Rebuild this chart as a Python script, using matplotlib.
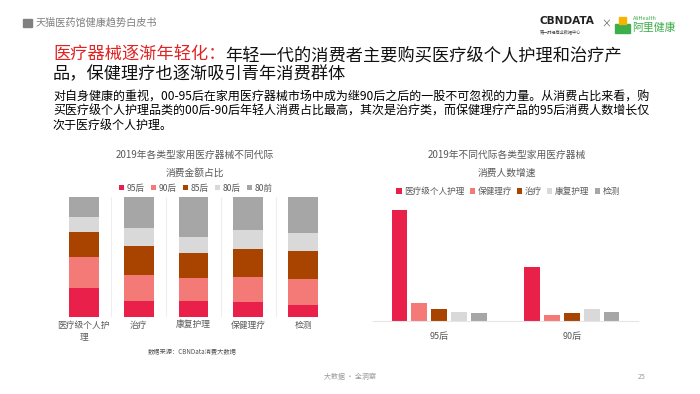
import matplotlib
matplotlib.use('Agg')
from matplotlib import pyplot as plt
from matplotlib.patches import Rectangle
import numpy as np

plt.rcParams['font.family'] = ['Noto Sans CJK SC', 'DejaVu Sans']

# left chart: share of spending by generation (%)
cats_left = ['医疗级个人护\n理', '治疗', '康复护理', '保健理疗', '检测']
gens = ['95后', '90后', '85后', '80后', '80前']
share_95 = [24.2, 13.1, 12.8, 12.2, 10.0]
share_90 = [25.3, 21.9, 19.2, 20.6, 21.7]
share_85 = [21.4, 23.9, 20.8, 23.6, 22.8]
share_80 = [11.9, 15.3, 13.9, 15.6, 15.6]
share_80q = [17.2, 25.8, 33.3, 28.1, 30.0]

# right chart: growth of buyers by category
groups_right = ['95后', '90后']
cats_right = ['医疗级个人护理', '保健理疗', '治疗', '康复护理', '检测']
growth_95 = [3.33, 0.54, 0.36, 0.27, 0.24]
growth_90 = [1.62, 0.19, 0.24, 0.35, 0.27]

gen_colors = ['#E8204A', '#F47A78', '#A94300', '#D9D9D9', '#A6A6A6']
right_colors = ['#E8204A', '#F47A78', '#A94300', '#D9D9D9', '#A6A6A6']

W, H = 700, 394
fig = plt.figure(figsize=(7, 3.94), dpi=100)

def fx(px):
    return px / W

def fy(py):
    return 1 - py / H

# header
fig.patches.append(Rectangle((fx(23), fy(27)), fx(9), 8 / H, transform=fig.transFigure,
                             color='#808080'))
fig.text(fx(36), fy(23), '天猫医药馆健康趋势白皮书', fontsize=7.3, color='#808080', va='center')

# logos
fig.text(fx(539), fy(21.5), 'CBNDATA', fontsize=7.6, fontweight='bold', color='#222222',
         va='center', family='DejaVu Sans')
fig.text(fx(540), fy(32), '第一财经商业数据中心', fontsize=3, color='#444444', va='center')
fig.text(fx(606), fy(24), '×', fontsize=7, color='#666666', va='center', ha='center')
fig.patches.append(Rectangle((fx(615), fy(33)), fx(15), 9 / H, transform=fig.transFigure,
                             color='#3DAE49'))
fig.patches.append(Rectangle((fx(619), fy(24)), fx(7), 7 / H, transform=fig.transFigure,
                             color='#F5B400'))
fig.text(fx(633), fy(18), 'AliHealth', fontsize=4, color='#3DAE49', va='center')
fig.text(fx(632), fy(27.5), '阿里健康', fontsize=7.8, color='#3DAE49', va='center')

# title
fig.text(fx(53), fy(55), '医疗器械逐渐年轻化：', fontsize=12.4, color='#E02424', va='center')
fig.text(fx(225), fy(55), '年轻一代的消费者主要购买医疗级个人护理和治疗产', fontsize=12.4,
         color='#111111', va='center')
fig.text(fx(53), fy(74), '品，保健理疗也逐渐吸引青年消费群体', fontsize=12.4,
         color='#111111', va='center')

body = ['对自身健康的重视，00-95后在家用医疗器械市场中成为继90后之后的一股不可忽视的力量。从消费占比来看，购',
        '买医疗级个人护理品类的00后-90后年轻人消费占比最高，其次是治疗类，而保健理疗产品的95后消费人数增长仅',
        '次于医疗级个人护理。']
for i, line in enumerate(body):
    fig.text(fx(53), fy(97 + 14 * i), line, fontsize=8.65, color='#000000', va='center')

# left chart
ax1 = fig.add_axes([fx(56.5), fy(316.7), fx(274), 120 / H])
x = np.arange(len(cats_left))
series = [share_95, share_90, share_85, share_80, share_80q]
bottom = np.zeros(len(cats_left))
for vals, col, lab in zip(series, gen_colors, gens):
    vals = np.array(vals) / 100.0
    ax1.bar(x, vals, 0.545, bottom=bottom, color=col, label=lab)
    bottom += vals
ax1.set_xlim(-0.5, len(cats_left) - 0.5)
ax1.set_ylim(0, 1)
for b in np.arange(0.5, len(cats_left), 1.0):
    ax1.axvline(b, color='#EEEEEE', lw=0.8, zorder=0)
for s in ax1.spines.values():
    s.set_visible(False)
ax1.set_yticks([])
ax1.set_xticks(x)
ax1.set_xticklabels(cats_left, fontsize=6.3, color='#595959', linespacing=1.3)
ax1.tick_params(axis='x', length=0, pad=3)

fig.text(fx(195), fy(155), '2019年各类型家用医疗器械不同代际', fontsize=7, color='#595959',
         ha='center', va='center')
fig.text(fx(195), fy(172.5), '消费金额占比', fontsize=7, color='#595959', ha='center', va='center')
ax1.legend(loc='center', bbox_to_anchor=(fx(196), fy(188)), bbox_transform=fig.transFigure,
           ncol=5, frameon=False, fontsize=6.2, handlelength=0.6, handleheight=0.6,
           columnspacing=0.7, handletextpad=0.3, labelcolor='#595959')

fig.text(fx(192), fy(352.5), '数据来源：CBNData消费大数据', fontsize=4.5, color='#555555',
         ha='center', va='center')

# right chart
ax2 = fig.add_axes([fx(373), fy(321), fx(265), 121 / H])
gx = np.arange(len(groups_right))
offs = (np.arange(len(cats_right)) - 2) * 0.15
for i, (lab, col) in enumerate(zip(cats_right, right_colors)):
    vals = [growth_95[i], growth_90[i]]
    ax2.bar(gx + offs[i], vals, 0.12, color=col, label=lab)
ax2.set_xlim(-0.5, 1.5)
ax2.set_ylim(0, 3.33 * 121 / 111)
for k, s in ax2.spines.items():
    s.set_visible(k == 'bottom')
ax2.spines['bottom'].set_color('#E6E6E6')
ax2.spines['bottom'].set_linewidth(0.8)
ax2.set_yticks([])
ax2.set_xticks(gx)
ax2.set_xticklabels(groups_right, fontsize=6.5, color='#595959')
ax2.tick_params(axis='x', length=0, pad=8)

fig.text(fx(507), fy(155), '2019年不同代际各类型家用医疗器械', fontsize=7, color='#595959',
         ha='center', va='center')
fig.text(fx(507), fy(172.5), '消费人数增速', fontsize=7, color='#595959', ha='center', va='center')
ax2.legend(loc='center', bbox_to_anchor=(fx(508), fy(191.5)), bbox_transform=fig.transFigure,
           ncol=5, frameon=False, fontsize=6.2, handlelength=0.6, handleheight=0.6,
           columnspacing=0.6, handletextpad=0.3, labelcolor='#595959')

# footer
fig.text(fx(350), fy(377), '大数据 · 全洞察', fontsize=5, color='#999999', ha='center', va='center')
fig.text(fx(642), fy(377), '25', fontsize=5, color='#999999', ha='center', va='center')

fig.savefig('out.png', dpi=100)
